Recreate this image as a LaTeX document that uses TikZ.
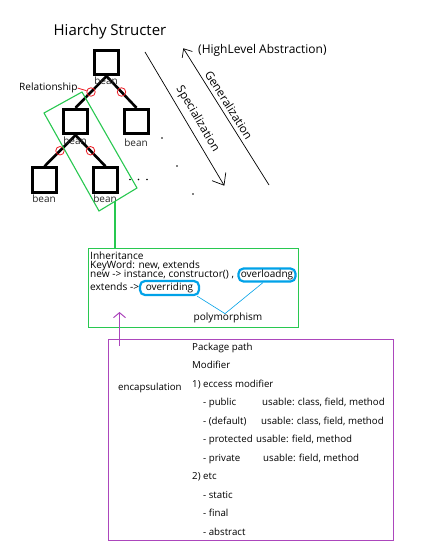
\documentclass[tikz,border=0pt]{standalone}
\usepackage{fontspec}
\setmainfont{Open Sans}
\usetikzlibrary{arrows.meta,calc}
\definecolor{grn}{RGB}{40,200,80}
\definecolor{prp}{RGB}{172,70,188}
\definecolor{cyn}{RGB}{0,162,232}
\definecolor{rd}{RGB}{237,28,36}
\begin{document}
\begin{tikzpicture}[x=1pt,y=-1pt,
  beanbox/.style={draw,line width=2.8pt,minimum size=24.5pt,inner sep=0pt},
  beanlbl/.style={font=\fontsize{10}{10}\selectfont,inner sep=0pt,anchor=base,text=black!85},
  treeedge/.style={line width=2.6pt},
  relc/.style={circle,draw=rd,line width=0.8pt,minimum size=8.5pt,inner sep=0pt},
  txt/.style={font=\fontsize{10.1}{10}\selectfont,inner sep=0pt,anchor=base west},
  etxt/.style={font=\fontsize{9.7}{10}\selectfont,inner sep=0pt,anchor=base west},
  cbox/.style={draw=cyn,line width=2.2pt,rounded corners=5pt,inner sep=0pt,
    font=\fontsize{10}{10}\selectfont},
  thinarrow/.style={line width=0.7pt},
  rot/.style={font=\fontsize{11.6}{11}\selectfont,inner sep=0pt},
]
\fill[white] (0,0) rectangle (420,545);
\useasboundingbox (0,0) rectangle (420,545);

% title
\node[font=\fontsize{15}{15}\selectfont,anchor=base,inner sep=0pt] (title) at (110,36) {Hiarchy Structer};
\node[font=\fontsize{12}{12}\selectfont,anchor=base west,inner sep=0pt] (hla) at (198,54) {(HighLevel Abstraction)};

% tree
\node[beanbox] (top) at (106.5,62.5) {};
\node[beanbox] (ml) at (75.5,121.5) {};
\node[beanbox] (mr) at (136.5,121.5) {};
\node[beanbox] (bl) at (44.5,180) {};
\node[beanbox] (br) at (105.5,180) {};

\draw[treeedge] (top.south) -- node[relc,pos=.5] (c1) {} (ml.north);
\draw[treeedge] (top.south) -- node[relc,pos=.5] (c2) {} (mr.north);
\draw[treeedge] (ml.south) -- node[relc,pos=.5] (c3) {} (bl.north);
\draw[treeedge] (ml.south) -- node[relc,pos=.5] (c4) {} (br.north);

\node[beanlbl] (ltop) at (106,85) {bean};
\node[beanlbl] (lml) at (75,145) {bean};
\node[beanlbl] (lmr) at (136,147) {bean};
\node[beanlbl] (lbl) at (44,203) {bean};
\node[beanlbl] (lbr) at (105,203) {bean};

\node[txt] (rel) at (19,90.7) {Relationship};
\draw[rd,line width=0.8pt] (rel.east) -- (c1);

% dots
\fill (162,138) circle (0.9);
\fill (177,166) circle (0.9);
\fill (193,194) circle (0.9);
\fill (130,179.5) circle (0.9);
\fill (138.5,179.5) circle (0.9);
\fill (147,179.5) circle (0.9);

% green group
\draw[grn,line width=1.1pt] (44,113) -- (82,92) -- (137,188) -- (99,211) -- cycle;
\coordinate (gb) at (115,201.3);

% specialization / generalization
\coordinate (s1) at (145,52);
\coordinate (s2) at (224.3,185.7);
\draw[thinarrow,-{Straight Barb[length=10pt,width=16pt]}] (s1) -- (s2);
\coordinate (g1) at (269,185);
\coordinate (g2) at (183.3,48.3);
\draw[thinarrow,-{Straight Barb[length=7pt,width=12pt]}] (g1) -- (g2);
\node[rot,rotate=-59.5] (spl) at (197.5,119) {Specialization};
\node[rot,rotate=-57.9] (gen) at (229,105) {Generalization};

% inheritance box
\node[draw=grn,line width=1.2pt,minimum width=210pt,minimum height=79pt,anchor=north west,inner sep=0pt] (inh) at (88,248) {};
\draw[grn,line width=1.1pt] (gb) -- (gb |- inh.north);
\node[txt] (t1) at (90,259) {Inheritance};
\node[txt] (t2) at (90,268) {KeyWord: new, extends};
\node[txt] (t3) at (90,277.5) {new -> instance, constructor() ,};
\node[txt] (t4) at (90,290) {extends ->};
\node[cbox,minimum width=57pt,minimum height=13pt] (ovl) at (267,275) {overloadng};
\node[cbox,minimum width=59pt,minimum height=14pt] (ovr) at (169.5,288) {overriding};
\node[txt,anchor=base] (poly) at (228,320) {polymorphism};
\coordinate (pm) at ($(poly.north)+(-3,1.5)$);
\draw[cyn,line width=0.6pt] ($(ovr.south east)+(-3,0)$) -- (pm);
\draw[cyn,line width=0.6pt] ($(ovl.south)+(-4,0)$) -- (pm);

% encapsulation box
\node[draw=prp,line width=1.3pt,minimum width=285pt,minimum height=201pt,anchor=north west,inner sep=0pt] (encb) at (108,339) {};
\coordinate (pa) at (119.5,346);
\coordinate (pb) at (119.5,312);
\draw[prp,line width=1pt,-{Straight Barb[length=5pt,width=12pt]}] (pa) -- (pb);

\node[etxt] (enc) at (118,390) {encapsulation};
\node[etxt] (e1) at (192,350) {Package path};
\node[etxt] (e2) at (192,368.5) {Modifier};
\node[etxt] (e3) at (192,387) {1) eccess modifier};
\node[etxt] (e4) at (203,405.5) {- public};
\node[etxt] (u4) at (262,405.5) {usable: class, field, method};
\node[etxt] (e5) at (203,424) {- (default)};
\node[etxt] (u5) at (261,424) {usable: class, field, method};
\node[etxt] (e6) at (203,442.5) {- protected};
\node[etxt] (u6) at (256,442.5) {usable: field, method};
\node[etxt] (e7) at (203,461) {- private};
\node[etxt] (u7) at (263,461) {usable: field, method};
\node[etxt] (e8) at (192,479.5) {2) etc};
\node[etxt] (e9) at (203,498) {- static};
\node[etxt] (e10) at (203,516.5) {- final};
\node[etxt] (e11) at (203,535) {- abstract};
\end{tikzpicture}
\end{document}
